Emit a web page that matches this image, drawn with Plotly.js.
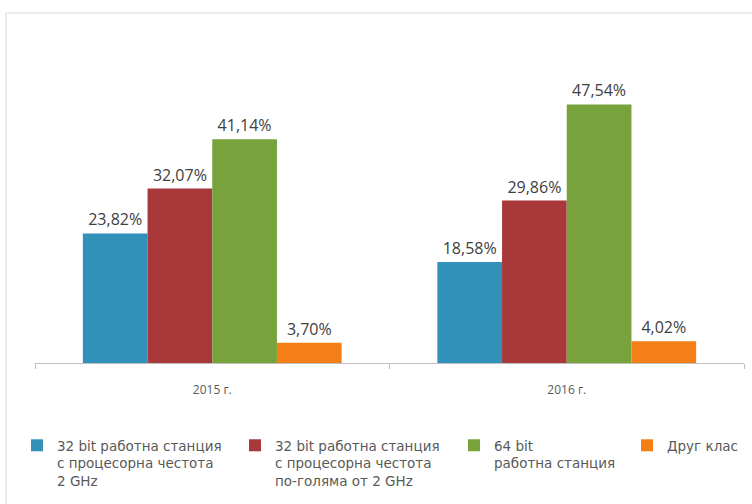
<!DOCTYPE html>
<html>
<head>
<meta charset="utf-8">
<script src="https://cdn.plot.ly/plotly-3.0.1.min.js"></script>
<style>html,body{margin:0;padding:0;background:#fff;}#chart{width:752px;height:504px;}</style>
</head>
<body>
<div id="chart"></div>
<script>
const categories = ["2015 г.", "2016 г."];
const seriesNames = [
  "32 bit работна станция<br>с процесорна честота<br>2 GHz",
  "32 bit работна станция<br>с процесорна честота<br>по-голяма от 2 GHz",
  "64 bit<br>работна станция",
  "Друг клас"
];
const blue32 = [23.82, 18.58];
const red32 = [32.07, 29.86];
const green64 = [41.14, 47.54];
const other = [3.70, 4.02];
const colors = ["#3191B8", "#A8383A", "#77A23C", "#F57F17"];

const allValues = [blue32, red32, green64, other];
const fmt = v => v.toFixed(2).replace(".", ",") + "%";
const legendIds = ["legend", "legend2", "legend3", "legend4"];
const legendLeft = [17, 235, 454, 627];

const traces = allValues.map((vals, i) => ({
  type: "bar",
  name: seriesNames[i],
  legend: legendIds[i],
  x: categories,
  y: vals,
  text: vals.map(fmt),
  textposition: "outside",
  cliponaxis: false,
  textfont: {family: "Open Sans, sans-serif", size: 16, color: "#404040"},
  marker: {color: colors[i], line: {width: 0}},
  hoverinfo: "none"
}));

const layout = {
  width: 752, height: 504,
  paper_bgcolor: "#fff", plot_bgcolor: "#fff",
  margin: {l: 35, r: 8, t: 91, b: 141, autoexpand: false},
  barmode: "group",
  bargap: 0.27,
  bargroupgap: 0,
  showlegend: true,
  xaxis: {
    type: "category",
    showline: true, linecolor: "#BFBFBF", linewidth: 1,
    ticks: "outside", tickson: "boundaries", ticklen: 5, tickcolor: "#BFBFBF",
    tickfont: {family: "Open Sans, sans-serif", size: 12, color: "#595959"},
    ticklabelstandoff: 16,
    showgrid: false, zeroline: false, fixedrange: true
  },
  yaxis: {
    range: [0, 50], visible: false, showgrid: false, zeroline: false, fixedrange: true
  },
  shapes: [{
    type: "rect", xref: "paper", yref: "paper",
    x0: -29 / 709, x1: 1.2, y0: -0.6, y1: (363 - 13) / 272,
    line: {color: "#D9D9D9", width: 1}, fillcolor: "rgba(0,0,0,0)", layer: "below"
  }]
};

legendIds.forEach((id, i) => {
  layout[id] = {
    orientation: "v",
    x: legendLeft[i] / 752, xref: "container", xanchor: "left",
    y: (504 - 430) / 504, yref: "container", yanchor: "top",
    valign: "top",
    bgcolor: "rgba(0,0,0,0)",
    font: {family: "DejaVu Sans, sans-serif", size: 13.5, color: "#595959"}
  };
});

Plotly.newPlot("chart", traces, layout, {staticPlot: true, displayModeBar: false});
</script>
</body>
</html>
